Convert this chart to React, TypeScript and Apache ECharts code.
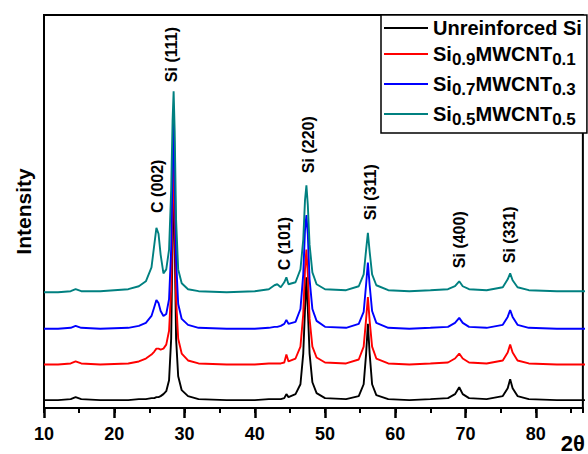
import React, { useEffect, useRef } from 'react';
import * as echarts from 'echarts';

// 2θ sample positions (degrees)
const twoTheta = [10, 12, 13.8, 14.5, 15.3, 18, 22, 23.5, 24.5, 25.3, 25.7, 26.0, 26.3, 26.6, 27.0, 27.4, 27.8, 28.1, 28.3, 28.45, 28.6, 28.8, 29.1, 29.6, 30.5, 32, 36, 40, 42, 42.8, 43.2, 43.7, 44.2, 44.5, 44.8, 45.8, 46.5, 46.9, 47.15, 47.35, 47.55, 47.8, 48.2, 48.8, 50, 53, 54.8, 55.5, 55.85, 56.1, 56.35, 56.7, 57.3, 59, 62, 65, 67.5, 68.5, 69.1, 69.6, 70.5, 73, 75.3, 76.0, 76.35, 76.7, 77.4, 79, 83, 87];

// Intensities (arbitrary units, stacked with offsets as in the figure)
const unreinforcedSi = [8, 8, 9, 11, 9, 8, 8, 9, 9, 10, 10, 11, 11, 12, 14, 17, 28, 70, 170, 290, 170, 70, 32, 18, 12, 9, 8, 8, 9, 9, 9, 9, 10, 14, 11, 14, 24, 55, 100, 132, 100, 55, 26, 15, 10, 9, 12, 24, 55, 85, 55, 24, 13, 9, 8, 9, 10, 14, 21, 14, 10, 9, 12, 20, 29, 20, 12, 9, 8, 8];
const si09 = [44, 44, 45, 47, 45, 44, 45, 47, 50, 54, 57, 60, 60, 59, 60, 64, 78, 120, 200, 285, 200, 110, 70, 55, 48, 45, 44, 44, 45, 45, 45, 45, 46, 54, 47, 50, 62, 95, 140, 160, 135, 90, 62, 51, 46, 45, 49, 62, 90, 112, 88, 62, 50, 45, 44, 45, 46, 50, 55, 50, 46, 45, 48, 56, 64, 56, 48, 45, 44, 44];
const si07 = [80, 80, 81, 83, 81, 80, 81, 83, 86, 93, 102, 109, 106, 98, 93, 95, 110, 160, 240, 300, 240, 150, 105, 90, 84, 81, 80, 80, 81, 82, 82, 83, 85, 89, 85, 87, 100, 135, 180, 195, 175, 130, 100, 88, 82, 81, 85, 97, 125, 147, 124, 98, 86, 81, 80, 81, 82, 86, 91, 86, 82, 81, 84, 92, 99, 92, 84, 81, 80, 80];
const si05 = [117, 117, 118, 120, 118, 118, 120, 123, 128, 142, 165, 182, 176, 155, 136, 140, 160, 220, 290, 320, 280, 190, 140, 126, 120, 118, 117, 118, 120, 124, 125, 122, 127, 132, 125, 127, 140, 170, 210, 225, 205, 165, 137, 125, 120, 119, 123, 135, 160, 177, 158, 135, 124, 119, 118, 119, 120, 123, 128, 123, 120, 119, 122, 130, 136, 129, 122, 119, 118, 118];

const seriesNames = ['Unreinforced Si', 'Si0.9MWCNT0.1', 'Si0.7MWCNT0.3', 'Si0.5MWCNT0.5'];
const seriesColors = ['#000000', '#ff0000', '#0000ff', '#008080'];
const seriesValues = [unreinforcedSi, si09, si07, si05];

// Peak annotations
const peakLabels = ['C (002)', 'Si (111)', 'C (101)', 'Si (220)', 'Si (311)', 'Si (400)', 'Si (331)'];
const peakLabelX = [26.2, 28.2, 44.3, 47.7, 56.5, 69.2, 76.2];
const peakLabelY = [224, 357, 166, 266, 218, 170, 175];

const xTicks = [10, 20, 30, 40, 50, 60, 70, 80];

const legendRich: Record<string, string> = {
  'Unreinforced Si': '{n|Unreinforced Si}',
  'Si0.9MWCNT0.1': '{n|Si}{s|0.9}{n|MWCNT}{s|0.1}',
  'Si0.7MWCNT0.3': '{n|Si}{s|0.7}{n|MWCNT}{s|0.3}',
  'Si0.5MWCNT0.5': '{n|Si}{s|0.5}{n|MWCNT}{s|0.5}',
};

const FONT = 'Liberation Sans, Arial, sans-serif';

export default function App() {
  const ref = useRef<HTMLDivElement>(null);
  useEffect(() => {
    if (!ref.current) return;
    const chart = echarts.init(ref.current, undefined, { renderer: 'svg' });
    const xMin = xTicks[0];
    const xMax = 86.7;
    chart.setOption({
      animation: false,
      backgroundColor: '#fff',
      grid: { left: 44, right: 1, top: 15, bottom: 42, show: true, borderColor: '#000', borderWidth: 2, containLabel: false },
      legend: {
        orient: 'vertical',
        left: 381,
        top: 15,
        data: seriesNames,
        icon: 'rect',
        itemWidth: 44,
        itemHeight: 2,
        itemGap: 2,
        padding: [3, 5, 5, 3],
        backgroundColor: '#fff',
        borderColor: '#000',
        borderWidth: 1.5,
        formatter: (name: string) => legendRich[name] || name,
        textStyle: {
          color: '#000',
          width: 150,
          rich: {
            n: { fontSize: 20, fontWeight: 'bold', fontFamily: FONT, color: '#000', lineHeight: 28 },
            s: { fontSize: 17, fontWeight: 'bold', fontFamily: FONT, color: '#000', lineHeight: 17, padding: [11, 0, 0, 0] },
          },
        },
      },
      xAxis: [
        {
          type: 'value',
          min: xMin,
          max: xMax,
          interval: 10,
          axisLine: { show: true, onZero: false, lineStyle: { color: '#000', width: 2 } },
          axisTick: { show: true, length: 10, lineStyle: { color: '#000', width: 2.5 } },
          axisLabel: { show: true, color: '#000', fontSize: 18, fontWeight: 'bold', fontFamily: FONT, margin: 17, showMaxLabel: false },
          splitLine: { show: false },
          name: '2θ',
          nameLocation: 'end',
          nameGap: -22,
          nameTextStyle: { color: '#000', fontSize: 22, fontWeight: 'bold', fontFamily: FONT, verticalAlign: 'top', padding: [24, 0, 0, 0] },
        },
        {
          type: 'value',
          min: xMin,
          max: xMax,
          interval: 5,
          position: 'bottom',
          axisLine: { show: false },
          axisTick: { show: true, length: 5, lineStyle: { color: '#000', width: 2 } },
          axisLabel: { show: false },
          splitLine: { show: false },
        },
      ],
      yAxis: {
        type: 'value',
        min: 0,
        max: 397,
        axisLine: { show: true, lineStyle: { color: '#000', width: 2 } },
        axisTick: { show: false },
        axisLabel: { show: false },
        splitLine: { show: false },
        name: 'Intensity',
        nameLocation: 'middle',
        nameGap: 10,
        nameTextStyle: { color: '#000', fontSize: 21, fontWeight: 'bold', fontFamily: FONT },
      },
      series: seriesNames.map((name, i) => ({
        name,
        type: 'line',
        xAxisIndex: 0,
        symbol: 'none',
        showSymbol: false,
        data: twoTheta.map((x, j) => [x, seriesValues[i][j]]),
        lineStyle: { color: seriesColors[i], width: 1.9 },
        itemStyle: { color: seriesColors[i] },
        z: 2 + i,
        markPoint:
          i === seriesNames.length - 1
            ? {
                silent: true,
                symbol: 'circle',
                symbolSize: 0,
                label: {
                  show: true,
                  position: 'inside',
                  rotate: 90,
                  formatter: '{b}',
                  color: '#000',
                  fontSize: 16,
                  fontWeight: 'bold',
                  fontFamily: FONT,
                },
                data: peakLabels.map((t, k) => ({ name: t, coord: [peakLabelX[k], peakLabelY[k]] })),
              }
            : undefined,
      })),
    });
    return () => chart.dispose();
  }, []);
  return <div ref={ref} style={{ position: 'fixed', left: 0, top: 0, width: 588, height: 454 }} />;
}
